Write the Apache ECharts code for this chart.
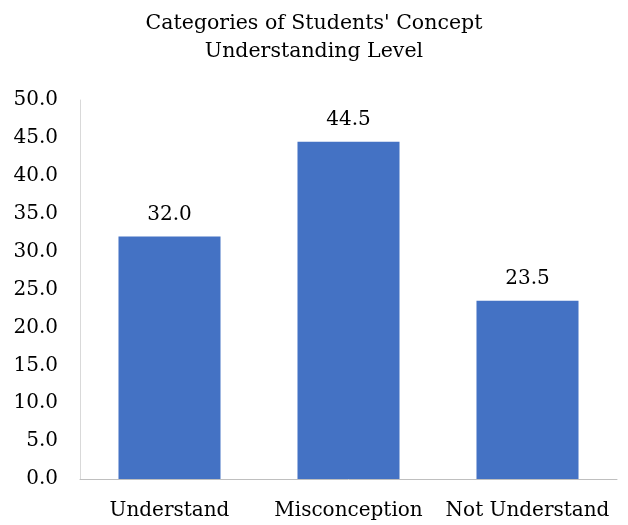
<!DOCTYPE html>
<html>
<head>
<meta charset="utf-8">
<script src="https://cdn.jsdelivr.net/npm/echarts@6/dist/echarts.min.js"></script>
<style>
  html, body { margin: 0; padding: 0; background: #fff; }
  #chart { width: 628px; height: 525px; }
</style>
</head>
<body>
<div id="chart"></div>
<script>
const categories = ['Understand', 'Misconception', 'Not Understand'];
const values = [32.0, 44.5, 23.5];
const yTicks = [0, 5, 10, 15, 20, 25, 30, 35, 40, 45, 50];

const FONT = '"DejaVu Serif", "Liberation Serif", serif';

const chart = echarts.init(document.getElementById('chart'));
chart.setOption({
  backgroundColor: '#fff',
  animation: false,
  title: {
    text: "Categories of Students' Concept\nUnderstanding Level",
    left: 'center',
    top: 5,
    textStyle: {
      fontFamily: FONT,
      fontWeight: 'normal',
      fontSize: 20.5,
      lineHeight: 28,
      color: '#000'
    }
  },
  grid: { left: 80, right: 11, top: 100, bottom: 46 },
  xAxis: {
    type: 'category',
    data: categories,
    axisLine: { lineStyle: { color: '#bfbfbf', width: 1 } },
    axisTick: { show: false },
    axisLabel: {
      fontFamily: FONT,
      fontSize: 20,
      color: '#000',
      margin: 22,
      interval: 0
    }
  },
  yAxis: {
    type: 'value',
    min: yTicks[0],
    max: yTicks[yTicks.length - 1],
    interval: 5,
    axisLine: { show: true, lineStyle: { color: '#d9d9d9', width: 1 } },
    axisTick: { show: false },
    splitLine: { show: false },
    axisLabel: {
      fontFamily: FONT,
      fontSize: 20,
      color: '#000',
      margin: 22,
      formatter: v => v.toFixed(1)
    }
  },
  series: [{
    type: 'bar',
    data: values,
    barCategoryGap: '43%',
    itemStyle: { color: '#4472C4' },
    label: {
      show: true,
      position: 'top',
      distance: 12,
      fontFamily: FONT,
      fontSize: 20,
      color: '#000',
      formatter: p => p.value.toFixed(1)
    }
  }]
});
</script>
</body>
</html>
